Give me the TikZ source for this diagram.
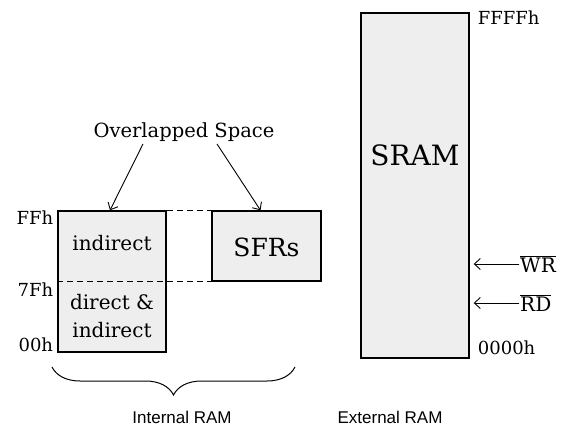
\documentclass[tikz,border=0pt]{standalone}
\usepackage{fontspec}
\setmainfont{DejaVu Serif}
\newfontfamily\captionfont{Liberation Sans}
\usetikzlibrary{arrows.meta,positioning,decorations.pathreplacing}

\begin{document}
\begin{tikzpicture}[
  x=1pt, y=-1pt,
  font=\fontsize{20}{28}\selectfont,
  mem/.style={rectangle, draw, line width=1.4pt, fill=gray!13, inner sep=0pt},
  addr/.style={inner sep=1pt, font=\fontsize{18}{20}\selectfont},
  arr/.style={-{Straight Barb[length=6pt,width=11pt]}, line width=0.9pt},
  split/.style={line width=1.2pt, dash pattern=on 6pt off 4pt},
  caption/.style={font=\captionfont\fontsize{17}{19}\selectfont},
]
\useasboundingbox (0,0) rectangle (562,428);

% Internal RAM
\node[mem, minimum width=108pt, minimum height=141pt] (iram) at (112,281.5) {};
\node (upper) at (112,243) {indirect};
\node[align=center] (lower) at (112,316) {direct \&\\indirect};

% SFR block
\node[mem, minimum width=109pt, minimum height=70pt] (sfr) at (266.5,246) {};
\node (sfrtext) at (266.5,247) {\fontsize{25}{27}\selectfont SFRs};

% overlap dashes
\draw[split] (iram.north east) -- (sfr.north west);
\draw[split] (iram.west |- sfr.south) -- (sfr.south west);

% Addresses
\node[addr, anchor=north east] (ffh) at ([xshift=-3pt,yshift=1pt]iram.north west) {FFh};
\node[addr, anchor=north east] (sfh) at ([xshift=-3pt]iram.west |- sfr.south) {7Fh};
\node[addr, anchor=south east] (zzh) at ([xshift=-3pt]iram.south west) {00h};

% Overlapped Space
\node (ovl) at (184,132) {\fontsize{19.5}{22}\selectfont Overlapped Space};
\draw[arr] ([xshift=-41pt,yshift=1pt]ovl.south) -- ([xshift=-2pt]iram.north);
\draw[arr] ([xshift=33pt,yshift=1pt]ovl.south) -- ([xshift=-6pt]sfr.north);

% External RAM
\node[mem, minimum width=108pt, minimum height=345pt] (sram) at (415,185.5) {};
\node (sramtext) at (415,155) {\fontsize{28}{30}\selectfont SRAM};
\node[addr, anchor=north west] (ffffh) at ([xshift=7pt,yshift=3pt]sram.north east) {FFFFh};
\node[addr, anchor=south west] (zzzzh) at ([xshift=7pt,yshift=3pt]sram.south east) {0000h};

% control lines
\node[addr, anchor=west, font=\fontsize{20}{22}\selectfont] (wr) at (519,264) {$\overline{\hbox{WR}}$};
\node[addr, anchor=west, font=\fontsize{20}{22}\selectfont] (rd) at (519,303) {$\overline{\hbox{RD}}$};
\draw[arr] (wr.west) -- ([xshift=4pt]sram.east |- wr.west);
\draw[arr] (rd.west) -- ([xshift=4pt]sram.east |- rd.west);

% brace and captions
\coordinate (bl) at (52,367);
\coordinate (br) at (295,367);
\draw[line width=1pt, decorate, decoration={brace, mirror, amplitude=28pt}] (bl) -- (br);
\node[caption] (intlbl) at (182,417) {Internal RAM};
\node[caption] (extlbl) at (390,417) {External RAM};

\end{tikzpicture}
\end{document}
